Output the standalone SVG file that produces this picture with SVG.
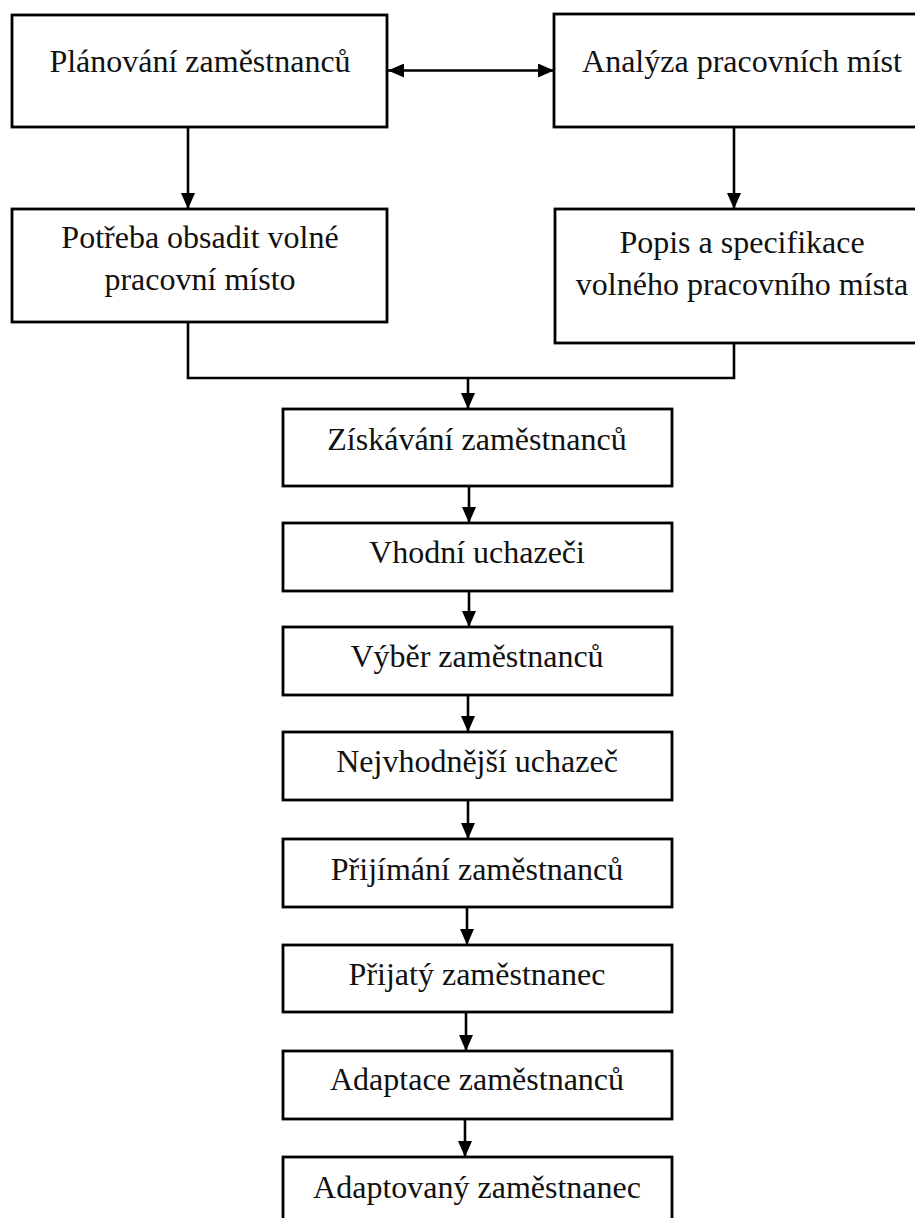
<svg xmlns="http://www.w3.org/2000/svg" width="915" height="1218" viewBox="0 0 915 1218">
  <style>
    .box { fill: #ffffff; stroke: #000000; stroke-width: 2.8; }
    .lbl { font-family: "Liberation Serif", "Times New Roman", serif; font-size: 32px; fill: #111111; text-anchor: middle; }
    .link { fill: none; stroke: #000000; stroke-width: 2.6; }
  </style>
  <defs>
    <marker id="head" viewBox="0 0 16 14" refX="16" refY="7" markerWidth="16" markerHeight="14" markerUnits="userSpaceOnUse" orient="auto-start-reverse">
      <path d="M0,0 L16,7 L0,14 z" fill="#000000"/>
    </marker>
  </defs>
  <rect width="915" height="1218" fill="#ffffff"/>

  <!-- connectors -->
  <g id="connectors">
    <line class="link" x1="388" y1="70.5" x2="554" y2="70.5" marker-start="url(#head)" marker-end="url(#head)"/>
    <line class="link" x1="188" y1="127" x2="188" y2="209" marker-end="url(#head)"/>
    <line class="link" x1="734" y1="127" x2="734" y2="209" marker-end="url(#head)"/>
    <polyline class="link" points="188,322 188,378 734,378 734,343"/>
    <line class="link" x1="468" y1="378" x2="468" y2="409" marker-end="url(#head)"/>
    <line class="link" x1="469" y1="486" x2="469" y2="523" marker-end="url(#head)"/>
    <line class="link" x1="469" y1="591" x2="469" y2="627" marker-end="url(#head)"/>
    <line class="link" x1="468" y1="695" x2="468" y2="732" marker-end="url(#head)"/>
    <line class="link" x1="468" y1="800" x2="468" y2="839" marker-end="url(#head)"/>
    <line class="link" x1="467" y1="907" x2="467" y2="945" marker-end="url(#head)"/>
    <line class="link" x1="466" y1="1012" x2="466" y2="1051" marker-end="url(#head)"/>
    <line class="link" x1="465" y1="1119" x2="465" y2="1157" marker-end="url(#head)"/>
  </g>

  <!-- top row -->
  <g id="planovani">
    <rect class="box" x="12" y="15" width="375" height="112"/>
    <text class="lbl" x="200" y="72">Plánování zaměstnanců</text>
  </g>
  <g id="analyza">
    <rect class="box" x="554" y="14" width="375" height="113"/>
    <text class="lbl" x="742" y="72">Analýza pracovních míst</text>
  </g>

  <!-- second row -->
  <g id="potreba">
    <rect class="box" x="12" y="209" width="375" height="113"/>
    <text class="lbl" x="200" y="248">Potřeba obsadit volné</text>
    <text class="lbl" x="200" y="290">pracovní místo</text>
  </g>
  <g id="popis">
    <rect class="box" x="555" y="209" width="375" height="134"/>
    <text class="lbl" x="742" y="253">Popis a specifikace</text>
    <text class="lbl" x="742" y="295">volného pracovního místa</text>
  </g>

  <!-- main chain -->
  <g id="ziskavani">
    <rect class="box" x="283" y="409" width="389" height="77"/>
    <text class="lbl" x="477" y="450">Získávání zaměstnanců</text>
  </g>
  <g id="vhodni">
    <rect class="box" x="283" y="523" width="389" height="68"/>
    <text class="lbl" x="477" y="563">Vhodní uchazeči</text>
  </g>
  <g id="vyber">
    <rect class="box" x="283" y="627" width="389" height="68"/>
    <text class="lbl" x="477" y="667">Výběr zaměstnanců</text>
  </g>
  <g id="nejvhodnejsi">
    <rect class="box" x="283" y="732" width="389" height="68"/>
    <text class="lbl" x="477" y="772">Nejvhodnější uchazeč</text>
  </g>
  <g id="prijimani">
    <rect class="box" x="283" y="839" width="389" height="68"/>
    <text class="lbl" x="477" y="880">Přijímání zaměstnanců</text>
  </g>
  <g id="prijaty">
    <rect class="box" x="283" y="945" width="389" height="67"/>
    <text class="lbl" x="477" y="985">Přijatý zaměstnanec</text>
  </g>
  <g id="adaptace">
    <rect class="box" x="283" y="1051" width="389" height="68"/>
    <text class="lbl" x="477" y="1090">Adaptace zaměstnanců</text>
  </g>
  <g id="adaptovany">
    <rect class="box" x="283" y="1157" width="389" height="80"/>
    <text class="lbl" x="477" y="1198">Adaptovaný zaměstnanec</text>
  </g>
</svg>
